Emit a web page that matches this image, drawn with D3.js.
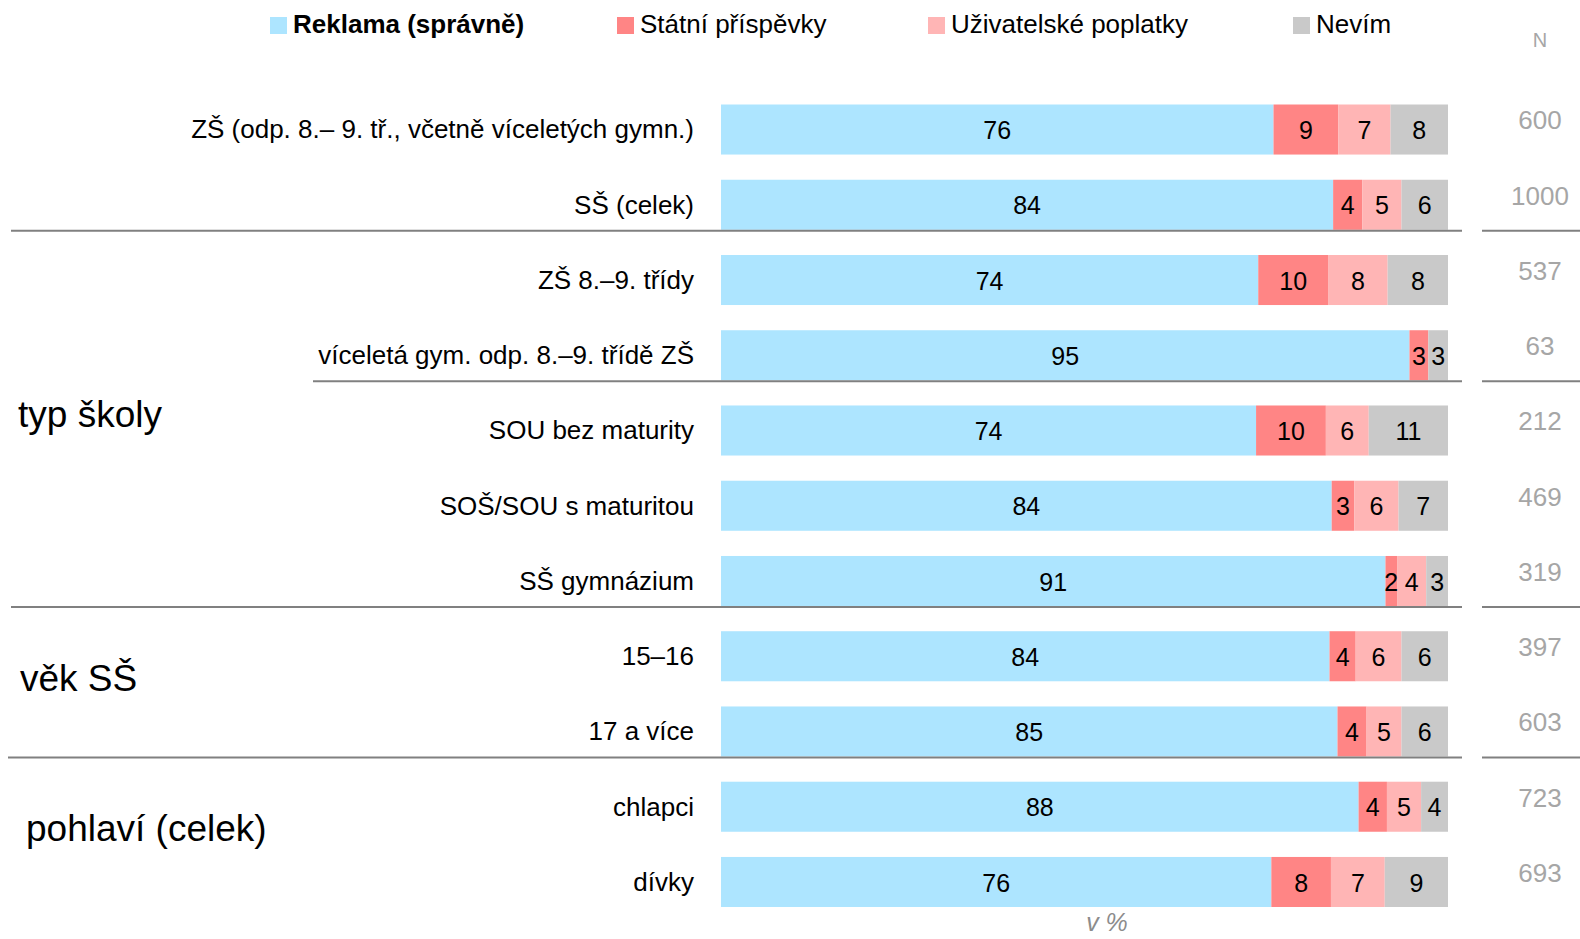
<!DOCTYPE html>
<html><head><meta charset="utf-8">
<script src="https://cdn.jsdelivr.net/npm/d3@7"></script>
<style>
body{margin:0;background:#fff;}
text{font-family:"Liberation Sans Narrow","Arial Narrow","Liberation Sans",sans-serif;}
</style></head><body>
<svg id="c" width="1580" height="939"></svg>
<script>
const categories = ["ZŠ (odp. 8.– 9. tř., včetně víceletých gymn.)","SŠ (celek)","ZŠ 8.–9. třídy","víceletá gym. odp. 8.–9. třídě ZŠ","SOU bez maturity","SOŠ/SOU s maturitou","SŠ gymnázium","15–16","17 a více","chlapci","dívky"];
const seriesNames = ["Reklama (správně)","Státní příspěvky","Uživatelské poplatky","Nevím"];
const reklama = [76.0,84.2,73.9,94.7,73.6,84.0,91.4,83.7,84.8,87.7,75.7];
const statni  = [8.9,4.0,9.6,2.6,9.6,3.1,1.6,3.6,4.0,3.9,8.2];
const uzivatel= [7.2,5.4,8.2,0,5.9,6.1,4.0,6.3,4.8,4.7,7.4];
const nevim   = [7.9,6.4,8.3,2.7,10.9,6.8,3.0,6.4,6.4,3.7,8.7];
const nValues = [600,1000,537,63,212,469,319,397,603,723,693];
const groups = [{label:"typ školy", rows:[2,6]},{label:"věk SŠ", rows:[7,8]},{label:"pohlaví (celek)", rows:[9,10]}];
const separators = [{after:1,x0:11},{after:3,x0:313},{after:6,x0:11},{after:8,x0:8}];

const colors = ["#ade5ff","#ff8585","#ffb5b5","#c9c9c9"];
const svg = d3.select("#c");
const x = d3.scaleLinear().domain([0,100]).range([721,1448]);
const y = d3.scaleBand().domain(categories).range([91.9,919.6]).paddingInner(0.335).paddingOuter(0.1675);

const data = categories.map((c,i)=>({cat:c, vals:[reklama[i],statni[i],uzivatel[i],nevim[i]], n:nValues[i]}));
const stack = d3.stack().keys([0,1,2,3]).value((d,k)=>d.vals[k]);
const series = stack(data);

const g = svg.append("g");
series.forEach((s,k)=>{
  g.selectAll(null).data(s).enter().append("rect")
    .attr("x",d=>x(d[0])).attr("y",d=>y(d.data.cat))
    .attr("width",d=>Math.max(0,x(d[1])-x(d[0]))).attr("height",y.bandwidth())
    .attr("fill",colors[k]);
});
// segment value labels
series.forEach((s,k)=>{
  g.selectAll(null).data(s.filter(d=>d[1]-d[0]>0.5)).enter().append("text")
    .attr("x",d=>(x(d[0])+x(d[1]))/2).attr("y",d=>y(d.data.cat)+y.bandwidth()/2+3)
    .attr("text-anchor","middle").attr("dominant-baseline","middle")
    .attr("font-size",25).attr("fill","#000")
    .text(d=>Math.round(d[1]-d[0]));
});
// category labels
svg.selectAll(null).data(categories).enter().append("text")
  .attr("x",694).attr("y",c=>y(c)+y.bandwidth()/2+2)
  .attr("text-anchor","end").attr("dominant-baseline","middle")
  .attr("font-size",26).attr("fill","#000").text(c=>c);
// N values
svg.append("text").attr("x",1540).attr("y",42).attr("text-anchor","middle").attr("dominant-baseline","middle")
  .attr("font-size",20).attr("fill","#a6a6a6").text("N");
svg.selectAll(null).data(data).enter().append("text")
  .attr("x",1540).attr("y",d=>y(d.cat)+y.bandwidth()/2-7)
  .attr("text-anchor","middle").attr("dominant-baseline","middle")
  .attr("font-size",26).attr("fill","#a6a6a6").text(d=>d.n);
// separators
separators.forEach(s=>{
  const yy = y(categories[s.after])+y.bandwidth()+1;
  svg.append("line").attr("x1",s.x0).attr("x2",1462).attr("y1",yy).attr("y2",yy).attr("stroke","#808080").attr("stroke-width",2);
  svg.append("line").attr("x1",1482).attr("x2",1580).attr("y1",yy).attr("y2",yy).attr("stroke","#808080").attr("stroke-width",2);
});
// group labels
const gx = [18,20,26];
groups.forEach((gr,i)=>{
  const y0 = y(categories[gr.rows[0]]), y1 = y(categories[gr.rows[1]])+y.bandwidth();
  svg.append("text").attr("x",gx[i]).attr("y",(y0+y1)/2 - 13).attr("dominant-baseline","middle")
    .attr("font-size",37).style("font-family","'Liberation Sans',Arial,sans-serif").attr("fill","#000").text(gr.label);
});
// legend
const legX = [270,617,928,1293];
const leg = svg.append("g");
seriesNames.forEach((nm,k)=>{
  leg.append("rect").attr("x",legX[k]).attr("y",17).attr("width",17).attr("height",17).attr("fill",colors[k]);
  leg.append("text").attr("x",legX[k]+23).attr("y",26).attr("dominant-baseline","middle")
    .attr("font-size",26).attr("font-weight",k===0?"bold":"normal").attr("fill","#000").text(nm);
});
// axis note
svg.append("text").attr("x",1107).attr("y",924).attr("text-anchor","middle").attr("dominant-baseline","middle")
  .attr("font-size",25).attr("font-style","italic").attr("fill","#8c8c8c").text("v %");
</script></body></html>
